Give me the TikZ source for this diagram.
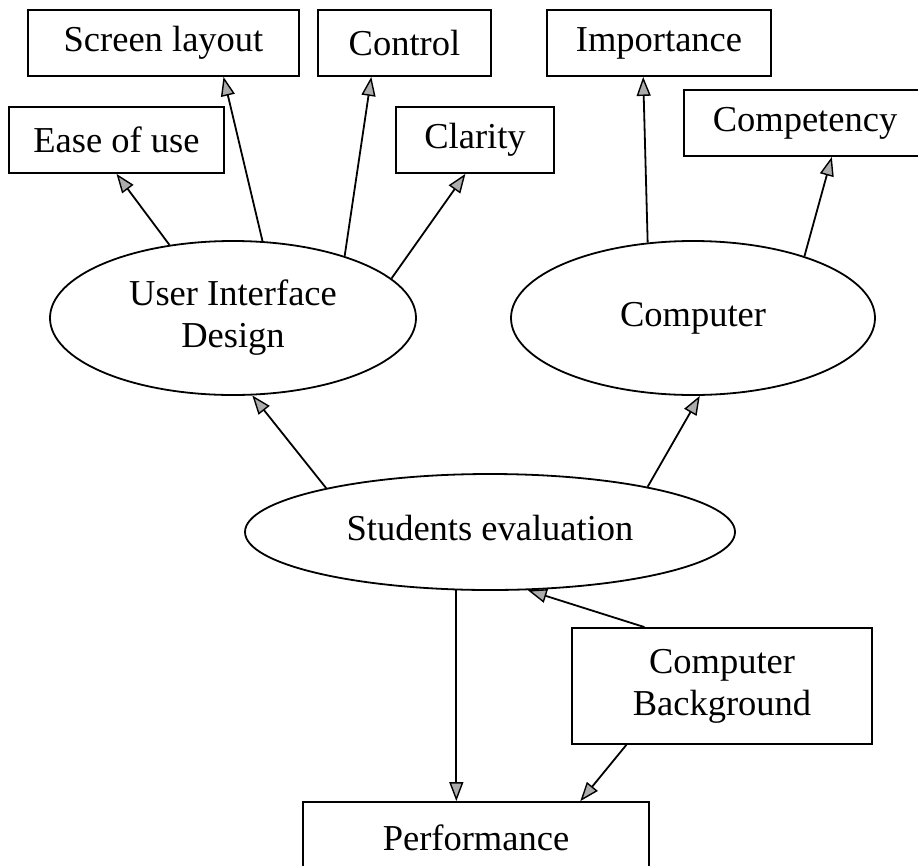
\documentclass[tikz,border=0pt]{standalone}
\usepackage{fontspec}
\setmainfont{Liberation Serif}
\usetikzlibrary{arrows.meta,shapes.geometric,calc}
\tikzset{
  lbl/.style={font=\fontsize{36.5}{42}\selectfont, align=center},
  boxn/.style={lbl, draw, rectangle, line width=1.8pt, inner sep=0pt},
  ellb/.style={lbl, draw, ellipse, line width=1.8pt, inner sep=0pt},
  conn/.style={line width=1.8pt, -{Triangle[length=19pt,width=14pt,fill=gray!65,line width=1.4pt]}},
}
\begin{document}
\begin{tikzpicture}[x=1pt,y=-1pt]
\fill[white] (0,0) rectangle (918,865);
\useasboundingbox (0,0) rectangle (918,865);
% boxes
\node[boxn, minimum width=271pt, minimum height=66pt] (scr) at (163.5,43) {Screen layout};
\node[boxn, minimum width=173pt, minimum height=66pt] (ctl) at (404.5,43) {Control};
\node[boxn, minimum width=224pt, minimum height=66pt] (imp) at (659,43) {Importance};
\node[boxn, minimum width=215pt, minimum height=66pt] (ease) at (116.5,140) {Ease of use};
\node[boxn, minimum width=158pt, minimum height=66pt] (clar) at (475,140) {Clarity};
\node[boxn, minimum width=242pt, minimum height=66pt] (comp) at (805,123) {Competency};
% ellipses
\node[ellb, minimum width=366pt, minimum height=154pt] (ui) at (233,318) {User Interface\\Design};
\node[ellb, minimum width=364pt, minimum height=154pt] (cpu) at (693,318) {Computer};
\node[ellb, minimum width=490pt, minimum height=116pt] (stu) at (490,532) {\raisebox{9pt}{Students evaluation}};
% lower boxes
\node[boxn, minimum width=300pt, minimum height=116pt] (cb) at (722,686) {Computer\\Background};
\node[boxn, minimum width=346pt, minimum height=72pt] (perf) at (476,838) {Performance};
% connectors
\draw[conn] (ui.131) -- ($(ease.south west)!0.5!(ease.south east)$);
\draw[conn] (ui.69) -- ($(scr.south west)!0.72!(scr.south east)$);
\draw[conn] (ui.29) -- ($(ctl.south west)!0.31!(ctl.south east)$);
\draw[conn] (ui.14) -- ($(clar.south west)!0.44!(clar.south east)$);
\draw[conn] (cpu.121.7) -- ($(imp.south west)!0.43!(imp.south east)$);
\draw[conn] (cpu.29) -- ($(comp.south west)!0.61!(comp.south east)$);
\draw[conn] (stu.165.5) -- (ui.284);
\draw[conn] (stu.16.7) -- (cpu.275);
\draw[conn] (stu.240.4) -- (stu.240.4 |- perf.north);
\draw[conn] ($(cb.north west)!0.243!(cb.north east)$) -- (stu.303);
\draw[conn] ($(cb.south west)!0.183!(cb.south east)$) -- ($(perf.north west)!0.8!(perf.north east)$);
\end{tikzpicture}
\end{document}
